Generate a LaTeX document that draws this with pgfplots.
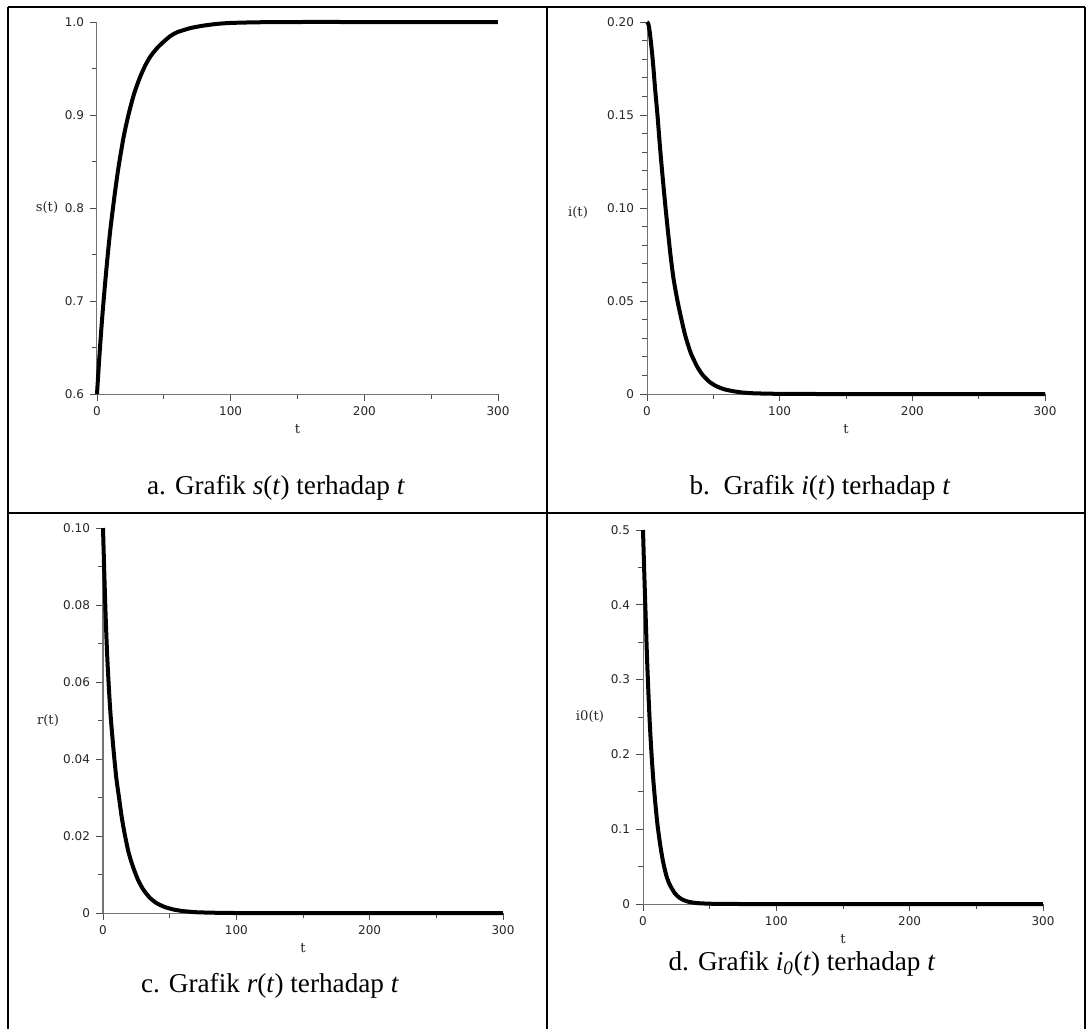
\documentclass[border=0pt]{standalone}
\usepackage{pgfplots}
\pgfplotsset{compat=1.18}
\usepackage{fontspec}
\setmainfont{Liberation Serif}
\newfontfamily\tickfont{DejaVu Sans}
\newfontfamily\labfont{DejaVu Serif}

\pgfplotstableread{
t v
0 0.600
2 0.645
4 0.684
6 0.718
8 0.749
10 0.777
13 0.812
16 0.843
20 0.877
24 0.903
28 0.924
32 0.940
36 0.953
40 0.963
45 0.972
50 0.979
55 0.985
60 0.989
70 0.9935
80 0.9962
90 0.998
100 0.999
120 0.9997
150 1.0
200 1.0
250 1.0
300 1.0
}\dataS

\pgfplotstableread{
t v
0 0.200
1 0.199
2 0.195
3 0.189
4 0.182
5 0.174
6 0.165
8 0.149
10 0.131
12 0.115
14 0.100
16 0.086
18 0.073
20 0.062
23 0.050
26 0.040
29 0.031
33 0.022
38 0.0145
42 0.0102
47 0.0066
52 0.0043
58 0.0026
65 0.0015
72 0.0008
80 0.0004
90 0.0002
100 0.0001
130 0
200 0
300 0
}\dataI

\pgfplotstableread{
t v
0 0.100
1 0.088
2 0.077
3 0.068
4 0.061
5 0.055
6 0.050
8 0.042
10 0.035
12 0.030
14 0.025
16 0.021
19 0.016
22 0.0125
26 0.0088
30 0.0062
35 0.0040
40 0.0026
46 0.0016
53 0.0009
60 0.0005
70 0.0002
80 0.0001
100 0
200 0
300 0
}\dataR

\pgfplotstableread{
t v
0 0.500
1 0.440
2 0.385
3 0.330
4 0.285
5 0.245
6 0.212
7 0.184
8 0.160
9.5 0.130
11 0.104
13 0.078
15 0.057
17.5 0.038
20 0.026
24 0.014
28 0.0075
33 0.0035
40 0.0013
50 0.0004
60 0.0001
80 0
200 0
300 0
}\dataD

\pgfplotsset{
  maple/.style={
    scale only axis,
    anchor=south west,
    enlargelimits=false,
    axis lines=left,
    axis line style={-, draw=black!55, line width=0.5pt},
    xmin=0, xmax=300,
    xtick={0,100,200,300},
    xticklabels={0,100,200,300},
    minor xtick={50,150,250},
    tick align=outside,
    major tick length=3.5pt,
    minor tick length=2.5pt,
    every tick/.style={black!70, line width=0.45pt},
    /pgf/number format/assume math mode=true,
    ticklabel style={font=\tickfont\fontsize{6}{7}\selectfont, text=black!85},
    xticklabel style={yshift=0.5pt},
    yticklabel style={xshift=0.5pt},
    every axis x label/.style={at={(rel axis cs:0.5,0)}, anchor=north, yshift=-11.5pt,
       font=\labfont\fontsize{6.6}{7}\selectfont, text=black!85},
    every axis y label/.style={at={(rel axis cs:0,0.5)}, anchor=center,
       font=\labfont\fontsize{6.6}{7}\selectfont, text=black!85},
    xlabel={t},
    clip=false,
  },
  curve/.style={black, line width=2pt, line join=round, smooth, tension=0.4, no marks},
}

\begin{document}
\begin{tikzpicture}
\useasboundingbox (0,0) rectangle (544.5pt,-514.5pt);

% table lines
\draw[line width=1.1pt] (4pt,-3.5pt) -- (542.5pt,-3.5pt);
\draw[line width=1.1pt] (4pt,-3.5pt) -- (4pt,-514.5pt);
\draw[line width=1.1pt] (273.5pt,-3.5pt) -- (273.5pt,-514.5pt);
\draw[line width=1.1pt] (542.5pt,-3.5pt) -- (542.5pt,-514.5pt);
\draw[line width=0.9pt] (4pt,-256.5pt) -- (542.5pt,-256.5pt);

% (a)
\begin{axis}[maple, at={(48.5pt,-197pt)}, width=200.5pt, height=186pt,
  ymin=0.6, ymax=1.0, ytick={0.6,0.7,0.8,0.9,1.0},
  yticklabels={0.6,0.7,0.8,0.9,1.0},
  minor ytick={0.65,0.75,0.85,0.95}, ylabel={s(t)},
  ylabel style={xshift=-25pt}]
\addplot[curve] table[x=t,y=v]{\dataS};
\end{axis}

% (b)
\begin{axis}[maple, at={(323.5pt,-197pt)}, width=199pt, height=186pt,
  ymin=0, ymax=0.2, ytick={0,0.05,0.10,0.15,0.20},
  yticklabels={0,0.05,0.10,0.15,0.20},
  minor ytick={0.01,0.02,0.03,0.04,0.06,0.07,0.08,0.09,0.11,0.12,0.13,0.14,0.16,0.17,0.18,0.19},
  ylabel={i(t)}, ylabel style={xshift=-34.5pt, yshift=-2.5pt}]
\addplot[curve] table[x=t,y=v]{\dataI};
\end{axis}

% (c)
\begin{axis}[maple, at={(51.5pt,-456.5pt)}, width=200pt, height=192.5pt,
  ymin=0, ymax=0.1, ytick={0,0.02,0.04,0.06,0.08,0.10},
  yticklabels={0,0.02,0.04,0.06,0.08,0.10},
  minor ytick={0.01,0.03,0.05,0.07,0.09},
  ylabel={r(t)}, ylabel style={xshift=-27.5pt}]
\addplot[curve] table[x=t,y=v]{\dataR};
\end{axis}

% (d)
\begin{axis}[maple, at={(321.5pt,-452pt)}, width=200pt, height=187pt,
  ymin=0, ymax=0.5, ytick={0,0.1,0.2,0.3,0.4,0.5},
  yticklabels={0,0.1,0.2,0.3,0.4,0.5},
  minor ytick={0.05,0.15,0.25,0.35,0.45},
  ylabel={i0(t)}, ylabel style={xshift=-26.5pt}]
\addplot[curve] table[x=t,y=v]{\dataD};
\end{axis}

% captions
\begin{scope}[every node/.style={font=\fontsize{13.6}{16}\selectfont, inner sep=0pt, anchor=base}]
\node at (138pt,-247pt) {a. Grafik \textit{s}(\textit{t}) terhadap \textit{t}};
\node at (410pt,-247pt) {b.\ \ Grafik \textit{i}(\textit{t}) terhadap \textit{t}};
\node at (135pt,-496pt) {c. Grafik \textit{r}(\textit{t}) terhadap \textit{t}};
\node at (401pt,-485pt) {d. Grafik \textit{i\textsubscript{0}}(\textit{t}) terhadap \textit{t}};
\end{scope}
\end{tikzpicture}
\end{document}
